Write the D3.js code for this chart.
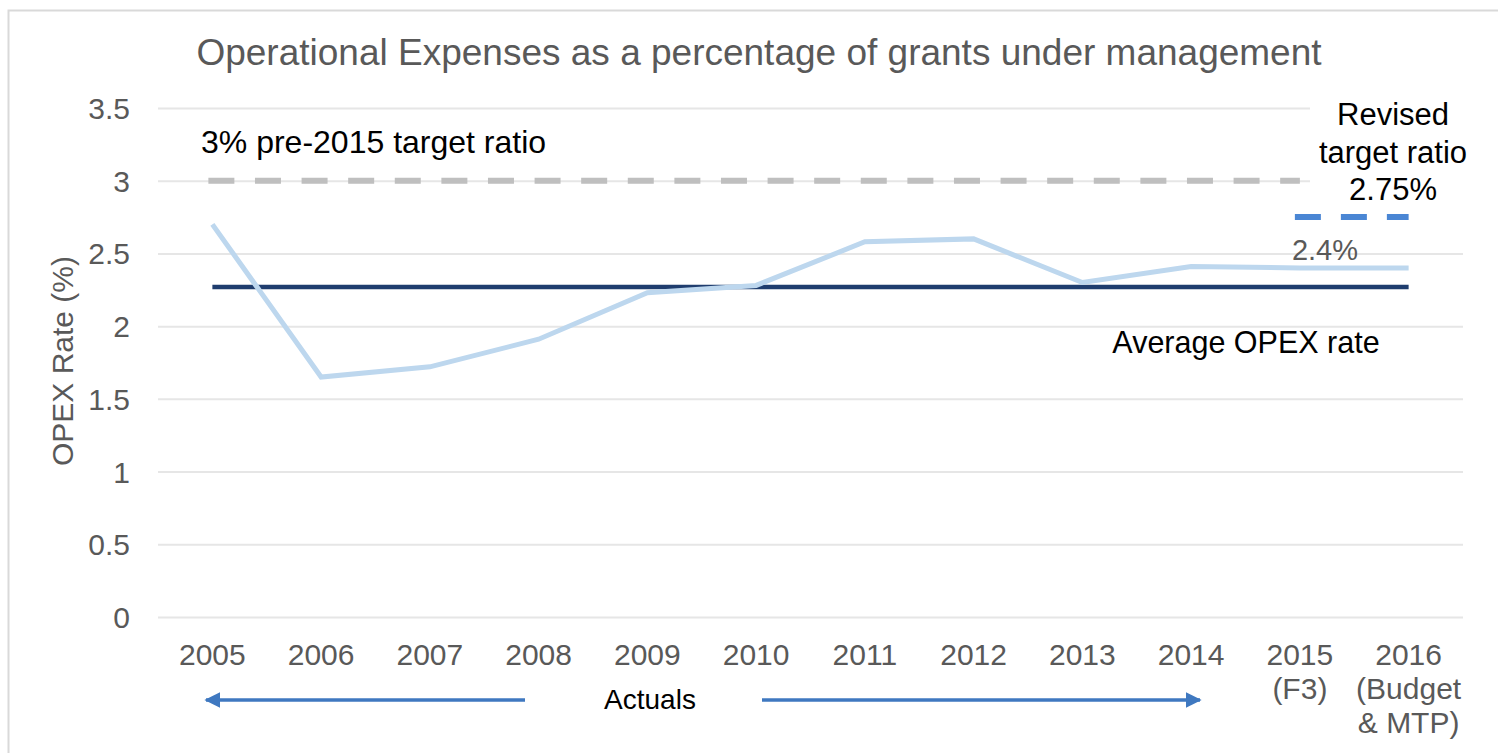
<!DOCTYPE html>
<meta charset="utf-8">
<script src="https://d3js.org/d3.v7.min.js"></script>
<body style="margin:0;background:#fff"></body>
<style>
  text { font-family: "Liberation Sans", Arial, sans-serif; }
  .grid line { stroke: #e6e6e6; stroke-width: 2px; }
  .grid path { display: none; }
  .tick text { fill: #595959; font-size: 30px; }
</style>
<script>
// categories and values
var years = ["2005","2006","2007","2008","2009","2010","2011","2012","2013","2014","2015","2016"];
var yearSub = {"2015": ["(F3)"], "2016": ["(Budget", "& MTP)"]};
var opexRate = [2.70, 1.65, 1.72, 1.91, 2.23, 2.28, 2.58, 2.60, 2.30, 2.41, 2.40, 2.40];
var avgRate = 2.27;
var oldTarget = 3;          // 2005 .. 2015
var newTarget = 2.75;       // 2015 .. 2016
var yTicks = [0, 0.5, 1, 1.5, 2, 2.5, 3, 3.5];

var width = 1498, height = 753;
var svg = d3.select("body").append("svg")
    .attr("width", width).attr("height", height);

// frame
svg.append("rect").attr("x", 8.5).attr("y", 10.5)
   .attr("width", width + 10).attr("height", height + 10)
   .attr("fill", "none").attr("stroke", "#d9d9d9").attr("stroke-width", 2);

var x = d3.scaleBand().domain(years).range([158, 1463]).padding(0);
var y = d3.scaleLinear().domain([0, 3.5]).range([617, 108]);
var cx = function(d) { return x(d) + x.bandwidth() / 2; };

// title
svg.append("text").attr("x", 759).attr("y", 65).attr("text-anchor", "middle")
   .attr("fill", "#595959").style("font-size", "37px")
   .text("Operational Expenses as a percentage of grants under management");

// gridlines + y labels
var gy = svg.append("g").attr("class", "grid")
   .attr("transform", "translate(158,0)")
   .call(d3.axisLeft(y).tickValues(yTicks).tickSize(-1305).tickPadding(28)
          .tickFormat(function(d) { return String(d); }));
gy.selectAll(".tick text").attr("dy", "0.35em");

svg.append("text").attr("transform", "translate(73,361) rotate(-90)")
   .attr("text-anchor", "middle").attr("fill", "#595959").style("font-size", "30px")
   .text("OPEX Rate (%)");

// white box behind the revised-target label hides the top gridlines
svg.append("rect").attr("x", 1310).attr("y", 95).attr("width", 160).attr("height", 110)
   .attr("fill", "#fff");

// x labels
var gx = svg.append("g").selectAll("text").data(years).enter().append("text")
   .attr("x", cx).attr("y", 665).attr("text-anchor", "middle")
   .attr("fill", "#595959").style("font-size", "30px");
gx.append("tspan").text(function(d) { return d; });
gx.each(function(d) {
  var t = d3.select(this);
  (yearSub[d] || []).forEach(function(s) {
    t.append("tspan").attr("x", cx(d)).attr("dy", 34).text(s);
  });
});

// pre-2015 target (dashed grey)
svg.append("line")
   .attr("x1", cx("2005") - 4).attr("x2", cx("2015"))
   .attr("y1", y(oldTarget)).attr("y2", y(oldTarget))
   .attr("stroke", "#bfbfbf").attr("stroke-width", 6)
   .attr("stroke-dasharray", "26,20.6");

// revised target (dashed blue)
svg.append("line")
   .attr("x1", cx("2015") - 5).attr("x2", cx("2016"))
   .attr("y1", y(newTarget)).attr("y2", y(newTarget))
   .attr("stroke", "#4a86d4").attr("stroke-width", 6)
   .attr("stroke-dasharray", "26,20");

// average line
svg.append("line")
   .attr("x1", cx("2005")).attr("x2", cx("2016"))
   .attr("y1", y(avgRate)).attr("y2", y(avgRate))
   .attr("stroke", "#1f3d6e").attr("stroke-width", 4.5);

// opex series
var line = d3.line().x(function(d, i) { return cx(years[i]); }).y(function(d) { return y(d); });
svg.append("path").datum(opexRate).attr("d", line)
   .attr("fill", "none").attr("stroke", "#bdd7ee").attr("stroke-width", 5);

// annotations
svg.append("text").attr("x", 201).attr("y", 153).style("font-size", "32px")
   .attr("fill", "#000").text("3% pre-2015 target ratio");

var rev = svg.append("text").attr("text-anchor", "middle").style("font-size", "31px").attr("fill", "#000");
["Revised", "target ratio", "2.75%"].forEach(function(s, i) {
  rev.append("tspan").attr("x", 1393).attr("y", 125 + i * 37.5).text(s);
});

svg.append("text").attr("x", 1325).attr("y", 260).attr("text-anchor", "middle")
   .attr("fill", "#595959").style("font-size", "29px").text("2.4%");

svg.append("text").attr("x", 1246).attr("y", 353).attr("text-anchor", "middle")
   .attr("fill", "#000").style("font-size", "30.5px").text("Average OPEX rate");

svg.append("text").attr("x", 650).attr("y", 709).attr("text-anchor", "middle")
   .attr("fill", "#000").style("font-size", "28px").text("Actuals");

// arrows
var defs = svg.append("defs");
defs.append("marker").attr("id", "ah").attr("viewBox", "0 0 10 10")
   .attr("refX", 9).attr("refY", 5).attr("markerWidth", 4.6).attr("markerHeight", 4.6)
   .attr("orient", "auto-start-reverse")
   .append("path").attr("d", "M0,0L10,5L0,10z").attr("fill", "#3f78c0");

svg.append("line").attr("x1", 525).attr("x2", 206).attr("y1", 700).attr("y2", 700)
   .attr("stroke", "#3f78c0").attr("stroke-width", 3.5).attr("marker-end", "url(#ah)");
svg.append("line").attr("x1", 762).attr("x2", 1200).attr("y1", 700).attr("y2", 700)
   .attr("stroke", "#3f78c0").attr("stroke-width", 3.5).attr("marker-end", "url(#ah)");
</script>
